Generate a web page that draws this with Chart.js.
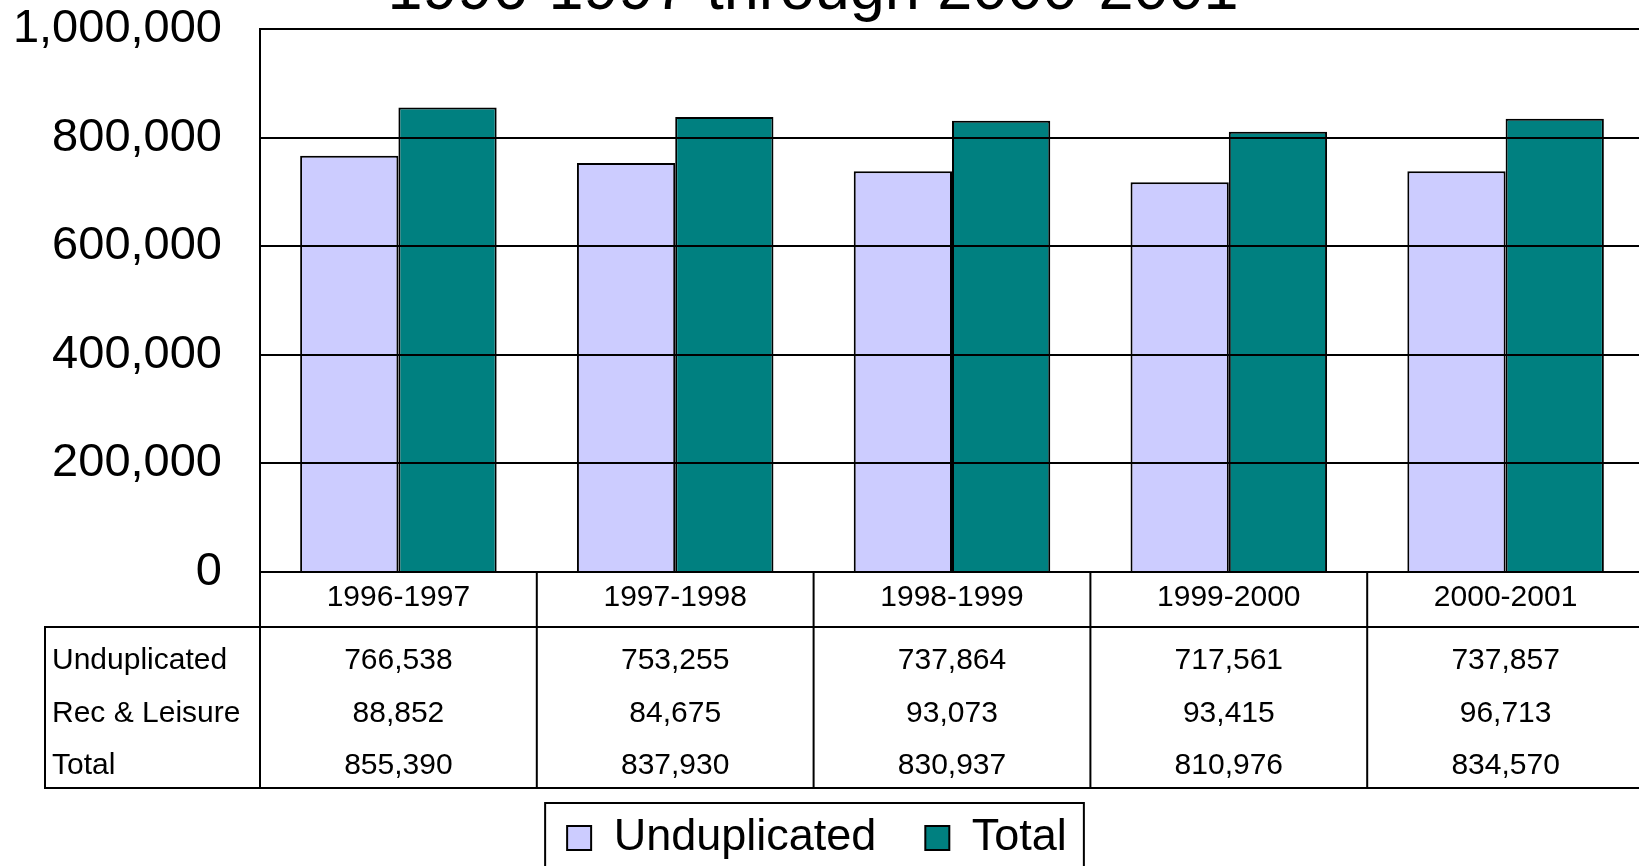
<!DOCTYPE html>
<html>
<head>
<meta charset="utf-8">
<title>Persons served 1996-1997 through 2000-2001</title>
<script src="https://cdn.jsdelivr.net/npm/chart.js@4.4.1/dist/chart.umd.min.js"></script>
<style>
html, body { margin: 0; padding: 0; background: #fff; overflow: hidden; width: 1639px; height: 866px; }
#wrap { position: absolute; left: -10px; top: 0; width: 1670px; height: 900px; }
</style>
</head>
<body>
<div id="wrap"><canvas id="chart" width="1670" height="900"></canvas></div>
<script>
// data
const years = ['1996-1997', '1997-1998', '1998-1999', '1999-2000', '2000-2001'];
const unduplicated = [766538, 753255, 737864, 717561, 737857];
const recLeisure = [88852, 84675, 93073, 93415, 96713];
const total = [855390, 837930, 830937, 810976, 834570];
const yTicks = [0, 200000, 400000, 600000, 800000, 1000000];
const titleText = '1996-1997 through 2000-2001';
const tableRows = [['Unduplicated', unduplicated], ['Rec & Leisure', recLeisure], ['Total', total]];

const FONT = '"Liberation Sans", Arial, sans-serif';
const fmt = v => v.toLocaleString('en-US');

// title (its upper part falls outside the picture)
const titlePlugin = {
    id: 'clippedTitle',
    afterDraw(chart) {
        const ctx = chart.ctx;
        ctx.save();
        ctx.fillStyle = '#000';
        ctx.font = '63px ' + FONT;
        ctx.textAlign = 'center';
        ctx.textBaseline = 'alphabetic';
        ctx.fillText(titleText, 823, 9);
        ctx.restore();
    }
};

// data table under the x axis
const tablePlugin = {
    id: 'dataTable',
    afterDraw(chart) {
        const {ctx, chartArea: a} = chart;
        const x = chart.scales.x;
        const half = (x.getPixelForValue(1) - x.getPixelForValue(0)) / 2;
        const headBottom = a.bottom + 55;
        const tableBottom = headBottom + 161;
        const leftEdge = 55;
        ctx.save();
        ctx.strokeStyle = '#000';
        ctx.lineWidth = 2;
        ctx.beginPath();
        years.forEach((y, i) => {
            const px = x.getPixelForValue(i) + half;
            ctx.moveTo(px, a.bottom);
            ctx.lineTo(px, tableBottom);
        });
        ctx.moveTo(a.left, a.bottom);
        ctx.lineTo(a.left, tableBottom);
        ctx.moveTo(leftEdge, headBottom);
        ctx.lineTo(leftEdge, tableBottom + 1);
        ctx.moveTo(leftEdge - 1, headBottom);
        ctx.lineTo(chart.width, headBottom);
        ctx.moveTo(leftEdge - 1, tableBottom);
        ctx.lineTo(chart.width, tableBottom);
        ctx.stroke();

        ctx.fillStyle = '#000';
        ctx.font = '30px ' + FONT;
        ctx.textBaseline = 'middle';
        const rowY = [34, 87, 139];
        tableRows.forEach((row, r) => {
            const yy = headBottom + rowY[r];
            ctx.textAlign = 'left';
            ctx.fillText(row[0], leftEdge + 7, yy);
            ctx.textAlign = 'center';
            row[1].forEach((v, i) => ctx.fillText(fmt(v), x.getPixelForValue(i), yy));
        });
        ctx.restore();
    }
};

// frame round the legend
const legendFrame = {
    id: 'legendFrame',
    afterDraw(chart) {
        const boxes = chart.legend.legendHitBoxes;
        if (!boxes || !boxes.length) return;
        const first = boxes[0];
        const last = boxes[boxes.length - 1];
        const ctx = chart.ctx;
        ctx.save();
        ctx.strokeStyle = '#000';
        ctx.lineWidth = 2;
        const left = first.left - 22;
        const right = last.left + last.width + 17;
        const top = first.top - 12.5;
        ctx.strokeRect(left, top, right - left, 120);
        ctx.restore();
    }
};

const chart = new Chart(document.getElementById('chart').getContext('2d'), {
    type: 'bar',
    data: {
        labels: years,
        datasets: [{
            label: 'Unduplicated',
            data: unduplicated,
            backgroundColor: '#CCCCFF',
            borderColor: '#000',
            borderWidth: 2
        }, {
            label: 'Total',
            data: total,
            backgroundColor: '#008080',
            borderColor: '#000',
            borderWidth: 2
        }]
    },
    options: {
        responsive: false,
        animation: false,
        datasets: {
            bar: { categoryPercentage: 0.71, barPercentage: 1.0 }
        },
        layout: {
            padding: { top: 29, right: 16, bottom: 29.5, left: 0 }
        },
        scales: {
            x: {
                z: 1,
                grid: { display: false, drawTicks: false },
                border: { display: true, color: '#000', width: 2, z: 1 },
                ticks: { color: '#000', font: { family: FONT, size: 30 }, padding: 8, maxRotation: 0 },
                afterFit(scale) { scale.height = 194.5; }
            },
            y: {
                z: 1,
                min: 0,
                max: 1000000,
                afterBuildTicks(scale) { scale.ticks = yTicks.map(v => ({value: v})); },
                grid: { color: '#000', lineWidth: 2, drawTicks: false, z: 1 },
                border: { display: true, color: '#000', width: 2, z: 1 },
                ticks: {
                    color: '#000',
                    font: { family: FONT, size: 47 },
                    padding: 38,
                    callback: v => fmt(v)
                },
                afterFit(scale) {
                    scale.width = 270;
                    scale.paddingTop = 0;
                    scale.paddingBottom = 0;
                }
            }
        },
        plugins: {
            title: { display: false },
            tooltip: { enabled: false },
            legend: {
                display: true,
                position: 'bottom',
                labels: {
                    color: '#000',
                    font: { family: FONT, size: 45 },
                    boxWidth: 24,
                    boxHeight: 24,
                    padding: 49
                }
            }
        }
    },
    plugins: [titlePlugin, tablePlugin, legendFrame]
});
</script>
</body>
</html>
